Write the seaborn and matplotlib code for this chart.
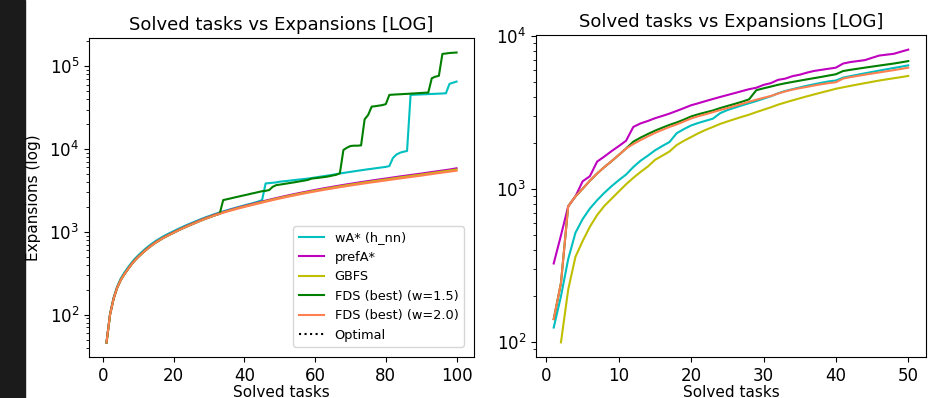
#======================== IMPORT LIBRARIES ========================

import numpy as np
import pandas as pd
import seaborn as sns
import matplotlib
matplotlib.use("Agg")
import matplotlib.pyplot as plt
from matplotlib.patches import Rectangle

#======================== DATA ========================

# ---- left panel : 100 tasks ----
left_tasks = np.arange(1, 101)

left_wa = [46, 102, 160, 218, 272, 320, 368, 420, 472, 522,
           572, 625, 677, 729, 781, 828, 880, 927, 974, 1020,
           1072, 1122, 1174, 1226, 1278, 1330, 1386, 1442, 1498, 1550,
           1606, 1662, 1715, 1768, 1820, 1873, 1925, 1980, 2033, 2090,
           2145, 2200, 2260, 2330, 2420, 3850, 3880, 3920, 3960, 4040,
           4080, 4120, 4170, 4220, 4270, 4310, 4360, 4410, 4470, 4540,
           4610, 4680, 4750, 4820, 4900, 4980, 5080, 5150, 5230, 5310,
           5390, 5470, 5550, 5630, 5710, 5780, 5860, 5940, 6020, 6100,
           6240, 7800, 8600, 9040, 9300, 9480, 45200, 45400, 45600, 45800,
           46000, 46200, 46400, 46600, 46800, 47000, 47300, 61400, 63500, 65500]

left_pref = [46, 101, 157, 212, 262, 308, 354, 405, 456, 505,
             553, 604, 655, 706, 757, 803, 854, 900, 946, 992,
             1043, 1094, 1146, 1197, 1249, 1300, 1357, 1413, 1470, 1522,
             1579, 1636, 1688, 1740, 1792, 1845, 1897, 1950, 2002, 2055,
             2108, 2161, 2214, 2268, 2326, 2384, 2442, 2500, 2559, 2617,
             2676, 2735, 2794, 2853, 2912, 2972, 3031, 3090, 3150, 3210,
             3270, 3330, 3390, 3450, 3510, 3570, 3630, 3690, 3750, 3810,
             3870, 3930, 3990, 4050, 4110, 4170, 4230, 4290, 4350, 4410,
             4475, 4540, 4605, 4670, 4735, 4800, 4865, 4930, 4995, 5060,
             5135, 5210, 5285, 5360, 5435, 5510, 5585, 5660, 5760, 5860]

left_gbfs = [46, 100, 156, 211, 261, 306, 352, 402, 453, 502,
             549, 600, 650, 700, 751, 797, 847, 892, 938, 983,
             1034, 1085, 1135, 1186, 1237, 1288, 1343, 1399, 1455, 1506,
             1562, 1618, 1669, 1720, 1771, 1822, 1873, 1925, 1976, 2027,
             2079, 2130, 2182, 2234, 2290, 2347, 2403, 2460, 2517, 2573,
             2630, 2687, 2744, 2801, 2858, 2916, 2973, 3030, 3087, 3145,
             3202, 3260, 3317, 3375, 3432, 3490, 3547, 3605, 3662, 3720,
             3777, 3835, 3892, 3950, 4007, 4065, 4122, 4180, 4237, 4295,
             4357, 4420, 4482, 4545, 4607, 4670, 4732, 4795, 4857, 4920,
             4992, 5065, 5137, 5210, 5282, 5355, 5427, 5500, 5585, 5670]

left_fds15 = [46, 100, 155, 210, 260, 305, 350, 400, 450, 498,
              545, 595, 645, 695, 745, 790, 840, 885, 930, 975,
              1025, 1075, 1125, 1175, 1225, 1275, 1330, 1385, 1440, 1490,
              1545, 1600, 1650, 2420, 2475, 2530, 2590, 2650, 2710, 2770,
              2830, 2900, 2960, 3030, 3100, 3130, 3200, 3500, 3670, 3720,
              3780, 3840, 3900, 3960, 4030, 4100, 4170, 4250, 4400, 4450,
              4500, 4560, 4620, 4700, 4800, 4900, 5100, 9750, 10400, 10900,
              11000, 11000, 11100, 22900, 25900, 32600, 33000, 33500, 34000, 35000,
              45200, 45500, 45800, 46000, 46300, 46500, 46800, 47100, 47400, 47700,
              48000, 48200, 71900, 75000, 76800, 141500, 143000, 145000, 146000, 147000]

left_fds20 = [46, 100, 155, 210, 260, 305, 350, 400, 450, 498,
              545, 595, 645, 695, 745, 790, 840, 885, 930, 975,
              1025, 1075, 1125, 1175, 1225, 1275, 1330, 1385, 1440, 1490,
              1545, 1600, 1650, 1700, 1750, 1800, 1850, 1900, 1950, 2000,
              2050, 2100, 2150, 2200, 2255, 2310, 2365, 2420, 2475, 2530,
              2585, 2640, 2695, 2750, 2805, 2860, 2915, 2970, 3025, 3080,
              3135, 3190, 3245, 3300, 3355, 3410, 3465, 3520, 3575, 3630,
              3685, 3740, 3795, 3850, 3905, 3960, 4015, 4070, 4125, 4180,
              4240, 4300, 4360, 4420, 4480, 4540, 4600, 4660, 4720, 4780,
              4850, 4920, 4990, 5060, 5130, 5200, 5270, 5340, 5410, 5480]

left_optimal = []   # not visible in the picture, only in the legend

# ---- right panel : 50 tasks ----
right_tasks = np.arange(1, 51)
right_gbfs_tasks = np.arange(2, 51)

right_wa = [125, 200, 350, 520, 640, 750, 850, 950, 1050, 1150,
            1250, 1400, 1540, 1660, 1800, 1920, 2040, 2330, 2480, 2620,
            2720, 2810, 2900, 3150, 3300, 3420, 3540, 3660, 3780, 3920,
            4060, 4250, 4400, 4520, 4640, 4760, 4870, 4980, 5080, 5150,
            5380, 5500, 5620, 5740, 5860, 5980, 6100, 6220, 6340, 6470]

right_pref = [328, 500, 775, 900, 1130, 1220, 1520, 1640, 1780, 1920,
              2080, 2560, 2700, 2800, 2920, 3020, 3130, 3260, 3400, 3550,
              3660, 3780, 3900, 4020, 4140, 4260, 4390, 4520, 4620, 4820,
              4950, 5200, 5300, 5500, 5620, 5800, 5950, 6050, 6150, 6250,
              6650, 6800, 6900, 7000, 7250, 7500, 7600, 7700, 7950, 8200]

right_gbfs = [100, 221, 362, 460, 570, 680, 780, 870, 970,
              1080, 1190, 1300, 1410, 1560, 1660, 1770, 1950, 2080, 2200,
              2330, 2450, 2560, 2680, 2780, 2880, 2980, 3080, 3200, 3320,
              3440, 3580, 3700, 3820, 3940, 4060, 4180, 4300, 4420, 4550,
              4650, 4750, 4850, 4950, 5050, 5150, 5240, 5330, 5420, 5520]

right_fds15 = [142, 244, 775, 900, 1010, 1140, 1270, 1400, 1530, 1680,
               1850, 2050, 2180, 2300, 2420, 2530, 2640, 2740, 2860, 3000,
               3100, 3190, 3280, 3400, 3510, 3620, 3740, 3880, 4450, 4580,
               4700, 4830, 4940, 5040, 5140, 5240, 5340, 5440, 5550, 5660,
               5940, 6050, 6150, 6250, 6350, 6450, 6550, 6650, 6770, 6900]

right_fds20 = [142, 244, 775, 900, 1010, 1140, 1270, 1400, 1530, 1680,
               1850, 1980, 2100, 2220, 2340, 2450, 2560, 2660, 2780, 2910,
               3010, 3100, 3200, 3300, 3400, 3510, 3620, 3740, 3860, 3970,
               4080, 4230, 4370, 4490, 4590, 4680, 4780, 4870, 4950, 5020,
               5300, 5420, 5520, 5620, 5720, 5820, 5920, 6020, 6130, 6250]

labels = ["wA* (h_nn)", "prefA*", "GBFS", "FDS (best) (w=1.5)", "FDS (best) (w=2.0)", "Optimal"]
colors = ["c", "m", "y", "g", "coral", "k"]

#======================== FIGURE ========================

fig = plt.figure(figsize=(9.5, 3.98), dpi=100)
# dark strip of the screenshot on the left
fig.patches.append(Rectangle((0, 0), 25 / 950, 1, transform=fig.transFigure,
                             color="#1b1b1b", zorder=-1))

ax1 = fig.add_axes([0.0937, 0.103, 0.4053, 0.8015])
ax2 = fig.add_axes([0.5642, 0.103, 0.4105, 0.8091])

# ---- left ----
left_series = [left_wa, left_pref, left_gbfs, left_fds15, left_fds20]
for vals, lab, col in zip(left_series, labels[:5], colors[:5]):
    df = pd.DataFrame({"tasks": left_tasks, "exp": vals})
    sns.lineplot(data=df, x="tasks", y="exp", color=col, label=lab, ax=ax1, linewidth=1.5)
ax1.plot(left_optimal, left_optimal, ":", color="k", label=labels[5])

ax1.set_yscale("log")
ax1.set_title("Solved tasks vs Expansions [LOG]", fontsize=13)
ax1.set_xlabel("Solved tasks", fontsize=11, labelpad=0)
ax1.set_ylabel("Expansions (log)", fontsize=11, labelpad=6)
ax1.tick_params(labelsize=12)
ax1.legend(loc="lower right", fontsize=9.3, borderaxespad=0.8)

# ---- right ----
right_series = [(right_tasks, right_wa), (right_tasks, right_pref), (right_gbfs_tasks, right_gbfs),
                (right_tasks, right_fds15), (right_tasks, right_fds20)]
for (xs, vals), col in zip(right_series, colors[:5]):
    df = pd.DataFrame({"tasks": xs, "exp": vals})
    sns.lineplot(data=df, x="tasks", y="exp", color=col, ax=ax2, linewidth=1.5)

ax2.set_yscale("log")
ax2.set_title("Solved tasks vs Expansions [LOG]", fontsize=13)
ax2.set_xlabel("Solved tasks", fontsize=11, labelpad=0)
ax2.set_ylabel("")
ax2.set_xticks([0, 10, 20, 30, 40, 50])
ax2.tick_params(labelsize=12)

plt.savefig("out.png", dpi=100)
